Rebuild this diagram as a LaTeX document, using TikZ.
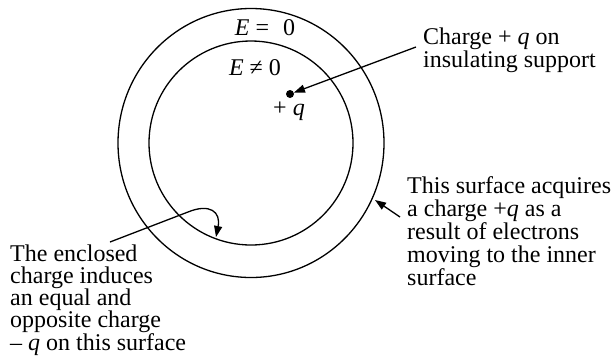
\documentclass[tikz,border=0pt]{standalone}
\usepackage{fontspec}
\setmainfont{Liberation Serif}
\usetikzlibrary{arrows.meta}

\begin{document}
\begin{tikzpicture}[
    x=1pt, y=-1pt,
    shell/.style={line width=1.3pt},
    field/.style={anchor=base, inner sep=0pt, font=\fontsize{24}{24}\selectfont},
    note/.style={anchor=north west, align=left, inner sep=0pt, font=\fontsize{24}{23}\selectfont},
    arrow/.style={-{Triangle[length=11pt, width=8pt]}, line width=1.3pt},
]
\useasboundingbox (0,0) rectangle (615,360);

% Conducting shell
\coordinate (centre) at (251,143);
\draw[shell] (centre) circle[radius=102];
\draw[shell] (centre) circle[x radius=133, y radius=134.5];

% Charge and field labels
\node[circle, fill, inner sep=0pt, minimum size=8pt] (charge) at (290,94) {};
\node[field] (plusq) at (289,115) {+ \textit{q}};
\node[field] (ezero) at (265,35) {\textit{E} =\hspace{8pt} 0};
\node[field] (enonzero) at (255,75) {\textit{E} ≠ 0};

% Notes
\node[note] (support) at (423,28) {Charge + \textit{q} on\\insulating support};
\node[note] (outside) at (407,176) {This surface acquires\\a charge +\textit{q} as a\\result of electrons\\moving to the inner\\surface};
\node[note, font=\fontsize{24}{22}\selectfont] (inside) at (10,245) {The enclosed\\charge induces\\an equal and\\opposite charge\\– \textit{q} on this surface};

% Leaders
\coordinate (supporttail) at (416,47);
\coordinate (outsidetail) at (400,217);
\coordinate (outsidehit) at (375,200);
\coordinate (insidetail) at (110,242);
\coordinate (insidehit) at (216,237);

\draw[arrow] (supporttail) -- (charge);
\draw[arrow] (outsidetail) -- (outsidehit);
\draw[arrow] (insidetail) -- (188,212) .. controls (210,203) and (221,212) .. (insidehit);

\end{tikzpicture}
\end{document}
